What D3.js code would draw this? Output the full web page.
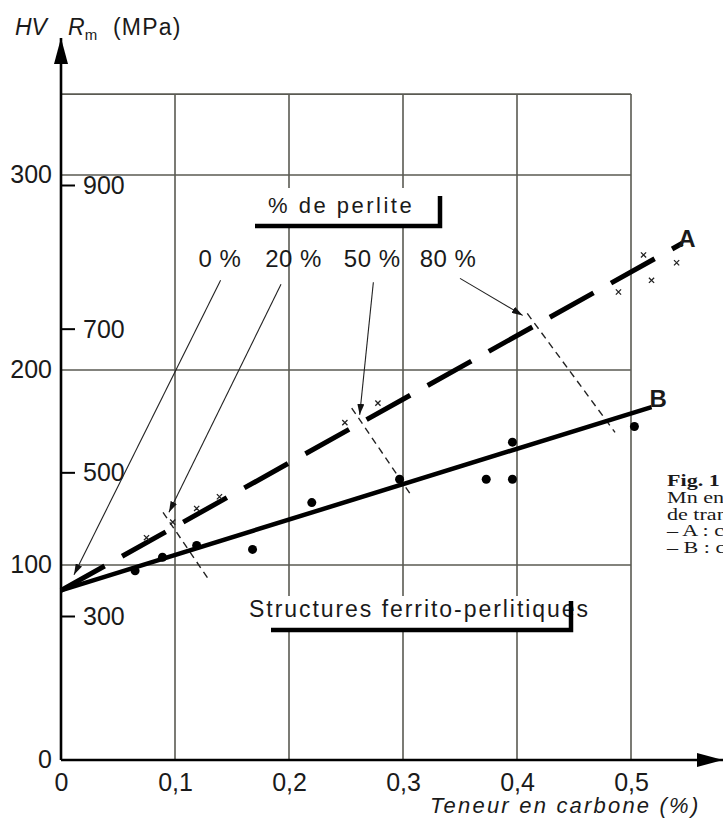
<!DOCTYPE html>
<html>
<head>
<meta charset="utf-8">
<script src="https://cdn.jsdelivr.net/npm/d3@7"></script>
<style>
body { margin: 0; background: #fff; }
svg { display: block; }
</style>
</head>
<body>
<svg id="chart" width="723" height="823"></svg>
<script>
var svg = d3.select("#chart")
const width = 723
const height = 823

// data
const carbonTicks = [0, 0.1, 0.2, 0.3, 0.4, 0.5]
const hvTicks = [0, 100, 200, 300]
const rmTicks = [300, 500, 700, 900]
// fitted lines (carbon %, HV)
const lineA = [[0, 87], [0.545, 265]]
const lineB = [[0, 87], [0.518, 181]]
// measured points
const crossesA = [[0.075, 114], [0.098, 122], [0.119, 129], [0.139, 135], [0.249, 173],
                  [0.278, 183], [0.489, 240], [0.511, 259], [0.518, 246], [0.540, 255]]
const dotsB = [[0.065, 97], [0.089, 104], [0.119, 110], [0.168, 108], [0.220, 132],
               [0.297, 144], [0.373, 144], [0.396, 144], [0.396, 163], [0.503, 171]]
// % pearlite markers
const perliteLabels = ["0 %", "20 %", "50 %", "80 %"]
const perliteLabelX = [0.1395, 0.204, 0.273, 0.3395]
const perliteLabelHV = 253
const perliteArrows = [
    [[0.140, 246], [0.0114, 95]],
    [[0.193, 244], [0.0947, 127]],
    [[0.274, 245], [0.262, 177]],
    [[0.350, 247], [0.405, 228]]
]
const perliteMarks = [
    [[0.0895, 127], [0.129, 93]],
    [[0.255, 180.5], [0.308, 135]],
    [[0.409, 229], [0.486, 168]]
]
const figText = ["Mn en", "de tran", "\u2013 A : c", "\u2013 B : c"]

const font = "'Liberation Sans', Arial, Helvetica, sans-serif"
const serif = "'Liberation Serif', 'Times New Roman', serif"
const gridTopHV = 341.5

var x = d3.scaleLinear()
    .domain([0, 0.5])
    .range([61, 631])

var y = d3.scaleLinear()
    .domain([0, 300])
    .range([760, 175])

// second vertical scale, tensile strength in MPa
var rm = d3.scaleLinear()
    .domain([300, 900])
    .range([616, 185])

var defs = svg.append("defs")
defs.append("marker")
    .attr("id", "thinArrow")
    .attr("markerUnits", "userSpaceOnUse")
    .attr("markerWidth", 11).attr("markerHeight", 7)
    .attr("refX", 11).attr("refY", 3.5)
    .attr("orient", "auto")
    .append("path").attr("d", "M0,0 L11,3.5 L0,7 Z").attr("fill", "#111")
defs.append("marker")
    .attr("id", "bigArrow")
    .attr("markerUnits", "userSpaceOnUse")
    .attr("markerWidth", 26).attr("markerHeight", 14)
    .attr("refX", 26).attr("refY", 7)
    .attr("orient", "auto")
    .append("path").attr("d", "M0,0 L26,7 L0,14 Z").attr("fill", "#000")

// grid
var grid = svg.append("g")
    .attr("stroke", "#5a5a52")
    .attr("stroke-width", 1.6)
grid.selectAll("line.v")
    .data(carbonTicks.slice(1))
    .enter().append("line")
    .attr("class", "v")
    .attr("x1", d => x(d)).attr("x2", d => x(d))
    .attr("y1", y(0)).attr("y2", y(gridTopHV))
grid.selectAll("line.h")
    .data(hvTicks.slice(1).concat([gridTopHV]))
    .enter().append("line")
    .attr("class", "h")
    .attr("x1", x(0)).attr("x2", x(0.5))
    .attr("y1", d => y(d)).attr("y2", d => y(d))

// axes with arrows
svg.append("line")
    .attr("x1", x(0)).attr("y1", y(0))
    .attr("x2", x(0)).attr("y2", 38)
    .attr("stroke", "#000").attr("stroke-width", 2.6)
    .attr("marker-end", "url(#bigArrow)")
svg.append("line")
    .attr("x1", x(0)).attr("y1", y(0))
    .attr("x2", 723).attr("y2", y(0))
    .attr("stroke", "#000").attr("stroke-width", 2.6)
    .attr("marker-end", "url(#bigArrow)")

var xAxis = d3.axisBottom(x)
    .tickValues(carbonTicks)
    .tickSize(0)
    .tickPadding(13)
    .tickFormat(d => d === 0 ? "0" : d3.format(".1f")(d).replace(".", ","))
svg.append("g")
    .attr("transform", "translate(0," + y(0) + ")")
    .call(xAxis)
    .call(g => g.select(".domain").remove())
    .selectAll("text")
    .attr("font-size", 25).attr("font-family", font).attr("fill", "#1a1a1a")

var yAxis = d3.axisLeft(y)
    .tickValues(hvTicks)
    .tickSize(0)
    .tickPadding(9)
svg.append("g")
    .attr("transform", "translate(" + x(0) + ",0)")
    .call(yAxis)
    .call(g => g.select(".domain").remove())
    .selectAll("text")
    .attr("dy", "0.28em")
    .attr("font-size", 25).attr("font-family", font).attr("fill", "#1a1a1a")

var rmAxis = d3.axisRight(rm)
    .tickValues(rmTicks)
    .tickSize(13)
    .tickPadding(8)
svg.append("g")
    .attr("transform", "translate(" + (x(0) + 1) + ",0)")
    .call(rmAxis)
    .call(g => g.select(".domain").remove())
    .call(g => g.selectAll("line").attr("stroke", "#000").attr("stroke-width", 2))
    .selectAll("text")
    .attr("dy", "0.34em")
    .attr("font-size", 25).attr("font-family", font).attr("fill", "#1a1a1a")

// axis titles
var head = svg.append("text")
    .attr("x", 15).attr("y", 35)
    .attr("font-family", font).attr("font-size", 23).attr("fill", "#1a1a1a")
head.append("tspan").attr("font-style", "italic").text("HV")
head.append("tspan").attr("x", 68).attr("font-style", "italic").text("R")
head.append("tspan").attr("font-size", 15).attr("dy", 5).text("m")
head.append("tspan").attr("x", 113).attr("dy", -5).attr("letter-spacing", 1.2).text("(MPa)")

svg.append("text")
    .attr("x", 430).attr("y", 813)
    .attr("font-family", font).attr("font-size", 22)
    .attr("font-style", "italic").attr("letter-spacing", 2.2)
    .attr("fill", "#1a1a1a")
    .text("Teneur en carbone (%)")

// "% de perlite" box
svg.append("rect")
    .attr("x", 250).attr("y", 188).attr("width", 192).attr("height", 37)
    .attr("fill", "#fff")
svg.append("text")
    .attr("x", 268).attr("y", 213)
    .attr("font-family", font).attr("font-size", 22).attr("letter-spacing", 2.5)
    .attr("fill", "#1a1a1a")
    .text("% de perlite")
svg.append("path")
    .attr("d", "M255,226 H440 V196")
    .attr("fill", "none").attr("stroke", "#000").attr("stroke-width", 4.5)

// "Structures ferrito-perlitiques" box
svg.append("rect")
    .attr("x", 244).attr("y", 596).attr("width", 350).attr("height", 36)
    .attr("fill", "#fff")
svg.append("text")
    .attr("x", 249).attr("y", 617)
    .attr("font-family", font).attr("font-size", 23).attr("letter-spacing", 1.95)
    .attr("fill", "#1a1a1a")
    .text("Structures ferrito-perlitiques")
svg.append("path")
    .attr("d", "M271,630 H571 V601")
    .attr("fill", "none").attr("stroke", "#000").attr("stroke-width", 4.5)

// perlite percentage labels, arrows and iso-perlite marks
svg.selectAll("text.perl")
    .data(perliteLabels)
    .enter().append("text")
    .attr("class", "perl")
    .attr("x", (d, i) => x(perliteLabelX[i]))
    .attr("y", y(perliteLabelHV))
    .attr("text-anchor", "middle")
    .attr("font-family", font).attr("font-size", 24).attr("letter-spacing", 0.5)
    .attr("fill", "#1a1a1a")
    .text(d => d)

svg.selectAll("line.arrow")
    .data(perliteArrows)
    .enter().append("line")
    .attr("class", "arrow")
    .attr("x1", d => x(d[0][0])).attr("y1", d => y(d[0][1]))
    .attr("x2", d => x(d[1][0])).attr("y2", d => y(d[1][1]))
    .attr("stroke", "#222").attr("stroke-width", 1.1)
    .attr("marker-end", "url(#thinArrow)")

svg.selectAll("line.mark")
    .data(perliteMarks)
    .enter().append("line")
    .attr("class", "mark")
    .attr("x1", d => x(d[0][0])).attr("y1", d => y(d[0][1]))
    .attr("x2", d => x(d[1][0])).attr("y2", d => y(d[1][1]))
    .attr("stroke", "#222").attr("stroke-width", 1.4)
    .attr("stroke-dasharray", "7,5")

// lines A and B
var line = d3.line().x(d => x(d[0])).y(d => y(d[1]))
svg.append("path")
    .datum(lineA)
    .attr("d", line)
    .attr("fill", "none").attr("stroke", "#000").attr("stroke-width", 5)
    .attr("stroke-dasharray", "50,20")
svg.append("path")
    .datum(lineB)
    .attr("d", line)
    .attr("fill", "none").attr("stroke", "#000").attr("stroke-width", 4.5)

svg.append("text")
    .attr("x", x(lineA[1][0]) - 4).attr("y", y(lineA[1][1]) + 4)
    .attr("font-family", font).attr("font-size", 24).attr("font-weight", "bold")
    .attr("fill", "#1a1a1a").text("A")
svg.append("text")
    .attr("x", x(lineB[1][0]) - 2).attr("y", y(lineB[1][1]) + 0)
    .attr("font-family", font).attr("font-size", 24).attr("font-weight", "bold")
    .attr("fill", "#1a1a1a").text("B")

// points
svg.selectAll("circle.pt")
    .data(dotsB)
    .enter().append("circle")
    .attr("class", "pt")
    .attr("cx", d => x(d[0])).attr("cy", d => y(d[1]))
    .attr("r", 4.5)
    .attr("fill", "#000")

svg.selectAll("path.cross")
    .data(crossesA)
    .enter().append("path")
    .attr("class", "cross")
    .attr("d", d => {
        var cx = x(d[0]), cy = y(d[1]), s = 2.6
        return "M" + (cx - s) + "," + (cy - s) + "L" + (cx + s) + "," + (cy + s) +
               "M" + (cx - s) + "," + (cy + s) + "L" + (cx + s) + "," + (cy - s)
    })
    .attr("stroke", "#222").attr("stroke-width", 1.3)

// caption on the right, cut by the page edge
svg.append("text")
    .attr("transform", "translate(667,486) scale(1.3,1)")
    .attr("font-family", serif).attr("font-size", 17)
    .attr("font-weight", "bold").attr("fill", "#1a1a1a")
    .text("Fig. 1")
svg.selectAll("text.cap")
    .data(figText)
    .enter().append("text")
    .attr("class", "cap")
    .attr("transform", (d, i) => "translate(667," + (503 + i * 16.7) + ") scale(1.3,1)")
    .attr("font-family", serif).attr("font-size", 17)
    .attr("fill", "#1a1a1a")
    .text(d => d)
</script>
</body>
</html>
